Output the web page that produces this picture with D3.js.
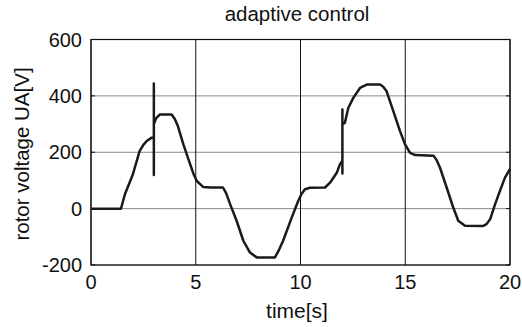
<!DOCTYPE html>
<html>
<head>
<meta charset="utf-8">
<script src="https://cdn.jsdelivr.net/npm/d3@7"></script>
<style>
  body { margin: 0; background: #fff; }
  text { font-family: "Liberation Sans", Arial, sans-serif; fill: #111; }
</style>
</head>
<body>
<svg id="chart" width="522" height="327"></svg>
<script>
const title = "adaptive control";
const xLabel = "time[s]";
const yLabel = "rotor voltage UA[V]";
const xTicks = [0, 5, 10, 15, 20];
const yTicks = [-200, 0, 200, 400, 600];

const time = [0, 1.43, 1.62, 2.0, 2.32, 2.5, 2.66, 2.9, 3.0, 3.0, 3.0, 3.0, 3.12, 3.29, 3.85, 4.0, 4.15, 4.41, 4.73, 4.9, 5.05, 5.35, 5.7, 6.3, 6.45, 6.64, 6.95, 7.27, 7.59, 7.91, 8.78, 8.95, 9.17, 9.58, 9.89, 10.05, 10.21, 10.45, 11.17, 11.41, 11.73, 11.88, 12.0, 12.0, 12.0, 12.0, 12.12, 12.28, 12.52, 12.84, 13.16, 13.8, 13.95, 14.11, 14.43, 14.75, 14.99, 15.23, 15.47, 16.35, 16.5, 16.66, 16.98, 17.29, 17.53, 17.85, 18.7, 18.88, 19.05, 19.29, 19.52, 19.76, 20];
const voltage = [0, 0, 51, 122, 204, 226, 240, 252, 254, 444, 119, 300, 322, 334, 334, 318, 292, 228, 158, 122, 98, 77, 75, 75, 55, 16, -43, -114, -156, -173, -173, -150, -114, -32, 27, 52, 69, 74, 75, 92, 127, 157, 170, 352, 125, 298, 305, 357, 393, 428, 440, 440, 432, 416, 346, 275, 228, 198, 190, 188, 172, 145, 74, 4, -43, -61, -62, -55, -38, 16, 63, 110, 141];

const svg = d3.select("#chart");
const m = { left: 91, right: 510, top: 39.5, bottom: 265 };
const x = d3.scaleLinear().domain([0, 20]).range([m.left, m.right]);
const y = d3.scaleLinear().domain([-200, 600]).range([m.bottom, m.top]);

// grid
svg.append("g").selectAll("line").data(yTicks).join("line")
  .attr("x1", m.left).attr("x2", m.right)
  .attr("y1", d => y(d)).attr("y2", d => y(d))
  .attr("stroke", "#888").attr("stroke-width", 1);
svg.append("g").selectAll("line").data(xTicks).join("line")
  .attr("y1", m.top).attr("y2", m.bottom)
  .attr("x1", d => x(d)).attr("x2", d => x(d))
  .attr("stroke", "#111").attr("stroke-width", 1);

// inner ticks on left/right
svg.append("g").selectAll("line").data(yTicks).join("line")
  .attr("x1", m.right - 4).attr("x2", m.right)
  .attr("y1", d => y(d)).attr("y2", d => y(d))
  .attr("stroke", "#111");
svg.append("g").selectAll("line").data(yTicks).join("line")
  .attr("x1", m.left).attr("x2", m.left + 4)
  .attr("y1", d => y(d)).attr("y2", d => y(d))
  .attr("stroke", "#111");

// frame
svg.append("rect").attr("x", m.left).attr("y", m.top)
  .attr("width", m.right - m.left).attr("height", m.bottom - m.top)
  .attr("fill", "none").attr("stroke", "#111").attr("stroke-width", 1.2);

// data line
const pts = time.map((t, i) => [t, voltage[i]]);
svg.append("path").datum(pts)
  .attr("d", d3.line().x(d => x(d[0])).y(d => y(d[1])))
  .attr("fill", "none").attr("stroke", "#1a1a1a").attr("stroke-width", 2.5)
  .attr("stroke-linejoin", "round");

// tick labels
svg.append("g").selectAll("text").data(xTicks).join("text")
  .attr("x", d => x(d)).attr("y", 289)
  .attr("text-anchor", "middle").attr("font-size", 20)
  .text(d => d);
svg.append("g").selectAll("text").data(yTicks).join("text")
  .attr("x", 82).attr("y", d => y(d)).attr("dy", "0.36em")
  .attr("text-anchor", "end").attr("font-size", 20)
  .text(d => d);

// labels
svg.append("text").attr("x", 297).attr("y", 20.5)
  .attr("text-anchor", "middle").attr("font-size", 20.5).text(title);
svg.append("text").attr("x", 297).attr("y", 318)
  .attr("text-anchor", "middle").attr("font-size", 21).text(xLabel);
svg.append("text").attr("transform", "translate(29,154) rotate(-90)")
  .attr("text-anchor", "middle").attr("font-size", 20.5).text(yLabel);
</script>
</body>
</html>
